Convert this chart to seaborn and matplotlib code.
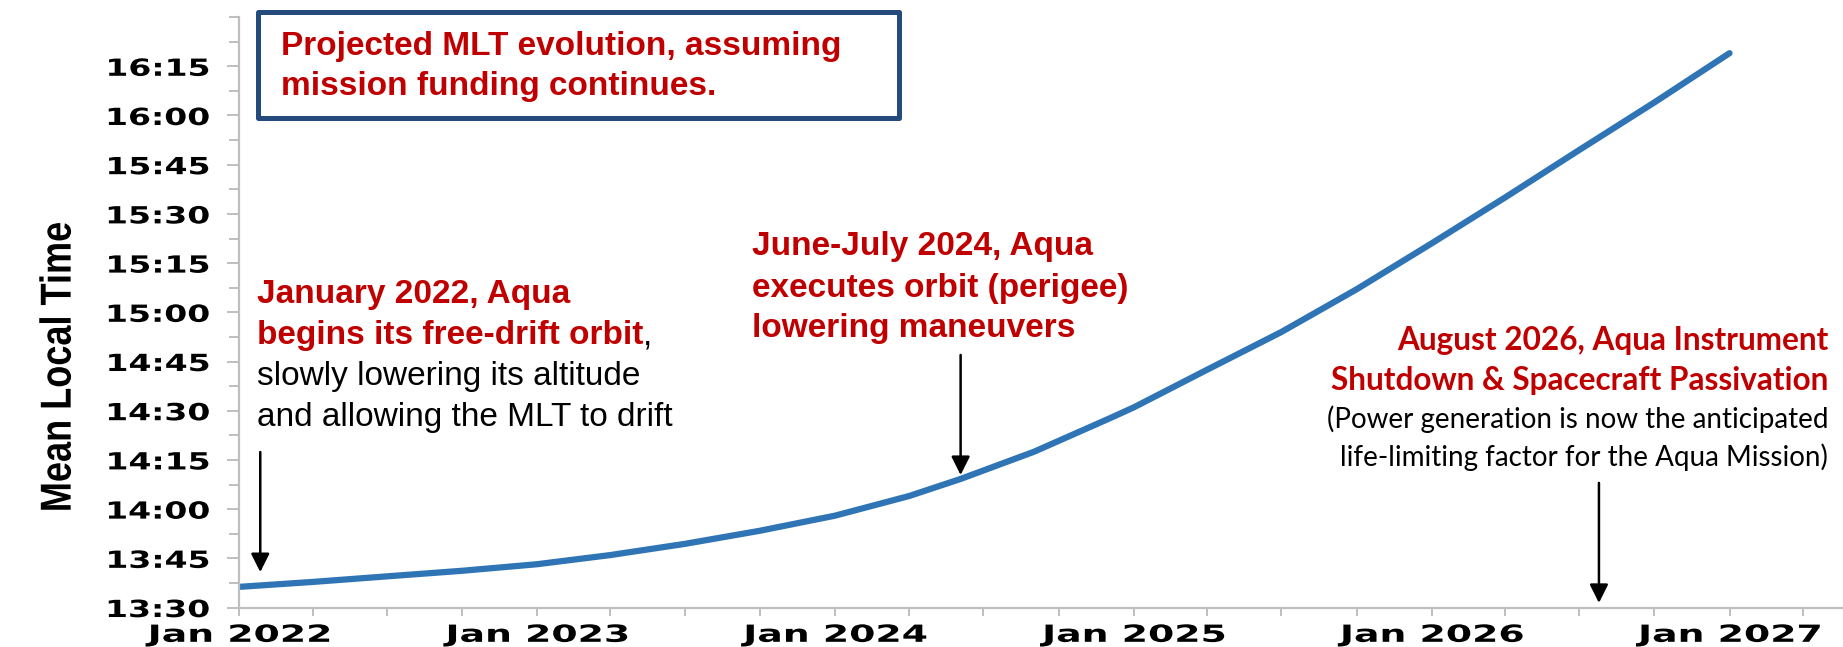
import pandas as pd
import matplotlib
matplotlib.use('Agg')
import matplotlib.pyplot as plt
import matplotlib.dates as mdates
from matplotlib.ticker import FixedLocator, MultipleLocator
from matplotlib.patches import Rectangle
from matplotlib.patheffects import AbstractPathEffect
from matplotlib.transforms import Affine2D
import seaborn as sns

# projected Aqua MLT, minutes after 13:00
dates = ['2022-01-01', '2022-04-01', '2022-07-01', '2022-10-01',
         '2023-01-01', '2023-04-01', '2023-07-01', '2023-10-01',
         '2024-01-01', '2024-04-01', '2024-06-03', '2024-09-01',
         '2024-12-01', '2025-01-01', '2025-04-01', '2025-07-01',
         '2025-10-01', '2026-01-01', '2026-04-01', '2026-07-01',
         '2026-10-01', '2027-01-01']
mlt_min = [36.3, 37.8, 39.5, 41.2,
           43.2, 46.0, 49.4, 53.4,
           58.0, 64.0, 69.2, 77.5,
           87.5, 91.0, 102.5, 114.0,
           127.0, 141.0, 155.0, 169.5,
           184.0, 199.0]

y_labels = ['13:30', '13:45', '14:00', '14:15', '14:30', '14:45',
            '15:00', '15:15', '15:30', '15:45', '16:00', '16:15']

# arrows: date, start and tip (minutes after 13:00)
arrow_dates = ['2022-01-27', '2024-06-03', '2026-07-25']
arrow_top = [77.4, 107.0, 68.0]
arrow_tip = [40.8, 70.4, 31.4]

RED = '#C00000'


class Stretch(AbstractPathEffect):
    # widen glyphs (the original chart image was stretched sideways)
    def __init__(self, sx=1.0, sy=1.0, anchor='center'):
        super().__init__()
        self.sx, self.sy, self.anchor = sx, sy, anchor

    def draw_path(self, renderer, gc, tpath, affine, rgbFace=None):
        ext = tpath.get_extents()
        if self.anchor == 'right':
            px = ext.x1
        elif self.anchor == 'left':
            px = ext.x0
        else:
            px = (ext.x0 + ext.x1) / 2
        tr = Affine2D().translate(-px, 0).scale(self.sx, self.sy).translate(px, 0) + affine
        renderer.draw_path(gc, tpath, tr, rgbFace)


df = pd.DataFrame({'date': pd.to_datetime(dates),
                   'mlt': [13 + m / 60 for m in mlt_min]})

sns.set_theme(style='white')
plt.rcParams['font.family'] = ['DejaVu Sans']

fig = plt.figure(figsize=(18.43, 6.47), dpi=100)
ax = fig.add_axes([0.1297, 0.061, 0.8703, 0.9126])

sns.lineplot(data=df, x='date', y='mlt', color='#2F75B5', linewidth=4.5,
             solid_capstyle='round', ax=ax)

ax.set_xlim(pd.Timestamp('2022-01-01'), pd.Timestamp('2027-05-20'))
ax.set_ylim(13.5, 16.5)

# y axis: clock labels
yt = [int(s[:2]) + int(s[3:]) / 60 for s in y_labels]
ax.yaxis.set_major_locator(FixedLocator(yt))
ax.set_yticklabels(y_labels)
ax.yaxis.set_minor_locator(MultipleLocator(0.125))

# x axis: yearly labels, quarterly ticks
ax.xaxis.set_major_locator(mdates.YearLocator())
ax.xaxis.set_major_formatter(mdates.DateFormatter('%b %Y'))
ax.xaxis.set_minor_locator(mdates.MonthLocator(bymonth=[4, 7, 10]))

for s in ['top', 'right']:
    ax.spines[s].set_visible(False)
for s in ['left', 'bottom']:
    ax.spines[s].set_color('#BFBFBF')
    ax.spines[s].set_linewidth(1.6)

ax.tick_params(axis='y', which='major', direction='out', length=9, width=1.4,
               color='#BFBFBF', pad=12, labelsize=17, left=True)
ax.tick_params(axis='y', which='minor', direction='out', length=7, width=1.4,
               color='#BFBFBF', left=True)
ax.tick_params(axis='x', which='both', direction='out', length=6, width=1.4,
               color='#BFBFBF', pad=5, labelsize=17, bottom=True)
for lab in ax.get_yticklabels():
    lab.set_fontweight('bold')
    lab.set_color('black')
    lab.set_path_effects([Stretch(sx=1.4, anchor='right')])
for lab in ax.get_xticklabels():
    lab.set_fontweight('bold')
    lab.set_color('black')
    lab.set_path_effects([Stretch(sx=1.6, anchor='center')])

ax.set_xlabel('')
ylab = ax.set_ylabel('Mean Local Time', fontsize=26, fontweight='bold',
                     family='Liberation Sans', color='black')
ylab.set_path_effects([Stretch(sy=1.2, anchor='center')])
ax.yaxis.set_label_coords(-0.1000, 0.407)

# title box
ax.add_patch(Rectangle((0.0118, 0.8291), 0.3997, 0.1795, transform=ax.transAxes,
                       fill=False, edgecolor='#254A7C', linewidth=3.6,
                       joinstyle='round', clip_on=False))
tf = dict(transform=ax.transAxes, family='Liberation Sans', fontsize=24,
          va='baseline', ha='left', clip_on=False)
ax.text(0.0262, 0.9358, 'Projected MLT evolution, assuming', color=RED,
        fontweight='bold', **tf)
ax.text(0.0262, 0.8680, 'mission funding continues.', color=RED,
        fontweight='bold', **tf)

# January 2022 note
ax.text(0.0112, 0.5157, 'January 2022, Aqua', color=RED, fontweight='bold', **tf)
t2 = ax.text(0.0112, 0.4463, 'begins its free-drift orbit', color=RED,
             fontweight='bold', **tf)
ax.annotate(',', xy=(1, 0), xycoords=t2, ha='left', va='bottom',
            family='Liberation Sans', fontsize=24, color='black')
ax.text(0.0112, 0.3769, 'slowly lowering its altitude', color='black', **tf)
ax.text(0.0112, 0.3075, 'and allowing the MLT to drift', color='black', **tf)

# June-July 2024 note
ax.text(0.3196, 0.5970, 'June-July 2024, Aqua', color=RED, fontweight='bold', **tf)
ax.text(0.3196, 0.5264, 'executes orbit (perigee)', color=RED, fontweight='bold', **tf)
ax.text(0.3196, 0.4587, 'lowering maneuvers', color=RED, fontweight='bold', **tf)

# August 2026 note
rf = dict(transform=ax.transAxes, family='Lato', va='baseline', ha='right',
          clip_on=False)
ax.text(0.9907, 0.4361, 'August 2026, Aqua Instrument', color=RED,
        fontweight='bold', fontsize=22.7, **rf)
ax.text(0.9907, 0.3684, 'Shutdown & Spacecraft Passivation', color=RED,
        fontweight='bold', fontsize=22.7, **rf)
ax.text(0.9907, 0.3040, '(Power generation is now the anticipated',
        color='black', fontsize=20, **rf)
ax.text(0.9907, 0.2398, 'life-limiting factor for the Aqua Mission)',
        color='black', fontsize=20, **rf)

for d, y0, y1 in zip(arrow_dates, arrow_top, arrow_tip):
    x = mdates.date2num(pd.Timestamp(d))
    ax.annotate('', xy=(x, 13 + y1 / 60), xytext=(x, 13 + y0 / 60),
                arrowprops=dict(arrowstyle='-|>', color='black', lw=1.8,
                                mutation_scale=28, shrinkA=0, shrinkB=0))

fig.savefig('out.png', dpi=100)
